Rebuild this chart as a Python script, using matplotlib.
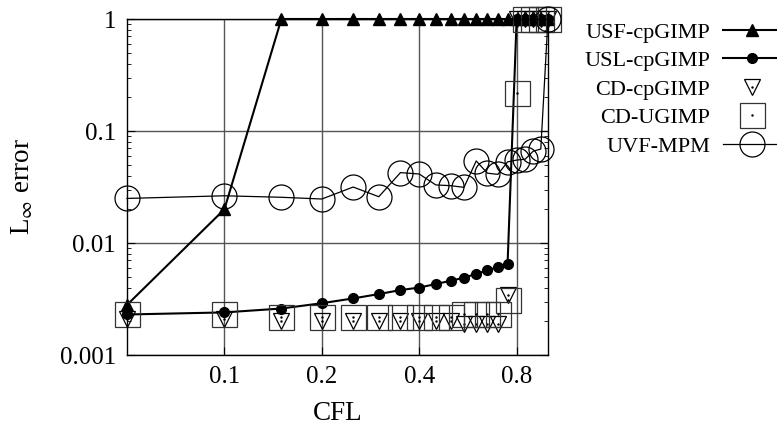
import matplotlib
matplotlib.use('Agg')
import matplotlib.pyplot as plt
from matplotlib.ticker import FixedLocator, LogLocator, NullLocator, NullFormatter

plt.rcParams['font.family'] = ['Liberation Serif', 'DejaVu Serif']
plt.rcParams['mathtext.fontset'] = 'stix'

# CFL numbers used in the runs
cfl = [0.05, 0.10, 0.15, 0.20, 0.25, 0.30, 0.35, 0.40, 0.45, 0.50,
       0.55, 0.60, 0.65, 0.70, 0.75, 0.80, 0.85, 0.90, 0.95, 1.00]

# L-inf errors
usf_cpgimp = [0.0028, 0.020, 1, 1, 1, 1, 1, 1, 1, 1,
              1, 1, 1, 1, 1, 1, 1, 1, 1, 1]
usl_cpgimp = [0.0023, 0.0024, 0.0026, 0.0029, 0.0032, 0.0035, 0.0038, 0.0040, 0.0043, 0.0046,
              0.0049, 0.0053, 0.0057, 0.0061, 0.0065, 1, 1, 1, 1, 1]
cd_cpgimp = [0.0021, 0.0021, 0.0020, 0.0020, 0.0020, 0.0020, 0.0020, 0.0020, 0.0020, 0.0020,
             0.0019, 0.0019, 0.0019, 0.0019, 0.0034, 1, 1, 1, 1, 1]
cd_ugimp = [0.0023, 0.0023, 0.0022, 0.0022, 0.0022, 0.0022, 0.0022, 0.0022, 0.0022, 0.0022,
            0.0023, 0.0023, 0.0023, 0.0023, 0.0031, 0.22, 1, 1, 1, 1]
uvf_mpm = [0.025, 0.0264, 0.0256, 0.0247, 0.0316, 0.0259, 0.0425, 0.0413, 0.033, 0.0325,
           0.0314, 0.054, 0.042, 0.041, 0.053, 0.055, 0.056, 0.066, 0.069, 1.0]

xticks = [0.1, 0.2, 0.4, 0.8]
xticklabels = ['0.1', '0.2', '0.4', '0.8']
yticks = [0.001, 0.01, 0.1, 1]
yticklabels = ['0.001', '0.01', '0.1', '1']

fig = plt.figure(figsize=(7.77, 4.28), dpi=100)
ax = fig.add_axes([127/777, 1 - 355/428, 421/777, 336/428])
ax.set_xscale('log', base=2)
ax.set_yscale('log')

h1, = ax.plot(cfl, usf_cpgimp, color='k', lw=1.5, marker='^', ms=9, clip_on=False)
h2, = ax.plot(cfl, usl_cpgimp, color='k', lw=1.5, marker='o', ms=7, clip_on=False)
h3, = ax.plot(cfl, cd_cpgimp, ls='none', marker='v', ms=11, mfc='none', mec='k', mew=0.9, clip_on=False)
d3, = ax.plot(cfl, cd_cpgimp, ls='none', marker='.', ms=1.5, color='k', clip_on=False)
h4, = ax.plot(cfl, cd_ugimp, ls='none', marker='s', ms=18, mfc='none', mec='#333333', mew=0.9, clip_on=False)
d4, = ax.plot(cfl, cd_ugimp, ls='none', marker='.', ms=1.5, color='k', clip_on=False)
h5, = ax.plot(cfl, uvf_mpm, color='k', lw=0.9, marker='o', ms=18, mfc='none', mec='k', mew=0.9, clip_on=False)

ax.set_xlim(0.05, 1.0)
ax.set_ylim(0.001, 1)
ax.xaxis.set_major_locator(FixedLocator(xticks))
ax.set_xticklabels(xticklabels)
ax.xaxis.set_minor_locator(NullLocator())
ax.yaxis.set_major_locator(FixedLocator(yticks))
ax.set_yticklabels(yticklabels)
ax.yaxis.set_minor_locator(LogLocator(base=10, subs=range(2, 10)))
ax.yaxis.set_minor_formatter(NullFormatter())

ax.grid(True, which='major', color='#555555', lw=1)
ax.set_axisbelow(True)
ax.tick_params(which='both', direction='in', right=True, top=False, labelsize=18, pad=8)
ax.tick_params(which='major', length=6)
ax.tick_params(which='minor', length=3)
for s in ax.spines.values():
    s.set_linewidth(1)

ax.set_xlabel('CFL', fontsize=19.5, va='center')
ax.xaxis.set_label_coords(0.5, -58/336)
ax.set_ylabel(r'L$_{\infty}$ error', fontsize=19.5, va='center')
ax.yaxis.set_label_coords(-104/421, 0.5)

ax.legend([h1, h2, (h3, d3), (h4, d4), h5],
          ['USF-cpGIMP', 'USL-cpGIMP', 'CD-cpGIMP', 'CD-UGIMP', 'UVF-MPM'],
          loc='upper right', bbox_to_anchor=(781/777, 1 - 22/428), bbox_transform=fig.transFigure,
          frameon=False, markerfirst=False, fontsize=16, handlelength=2.6,
          handletextpad=0.6, labelspacing=0.36, borderpad=0, borderaxespad=0, numpoints=1)

fig.savefig('out.png', dpi=100)
